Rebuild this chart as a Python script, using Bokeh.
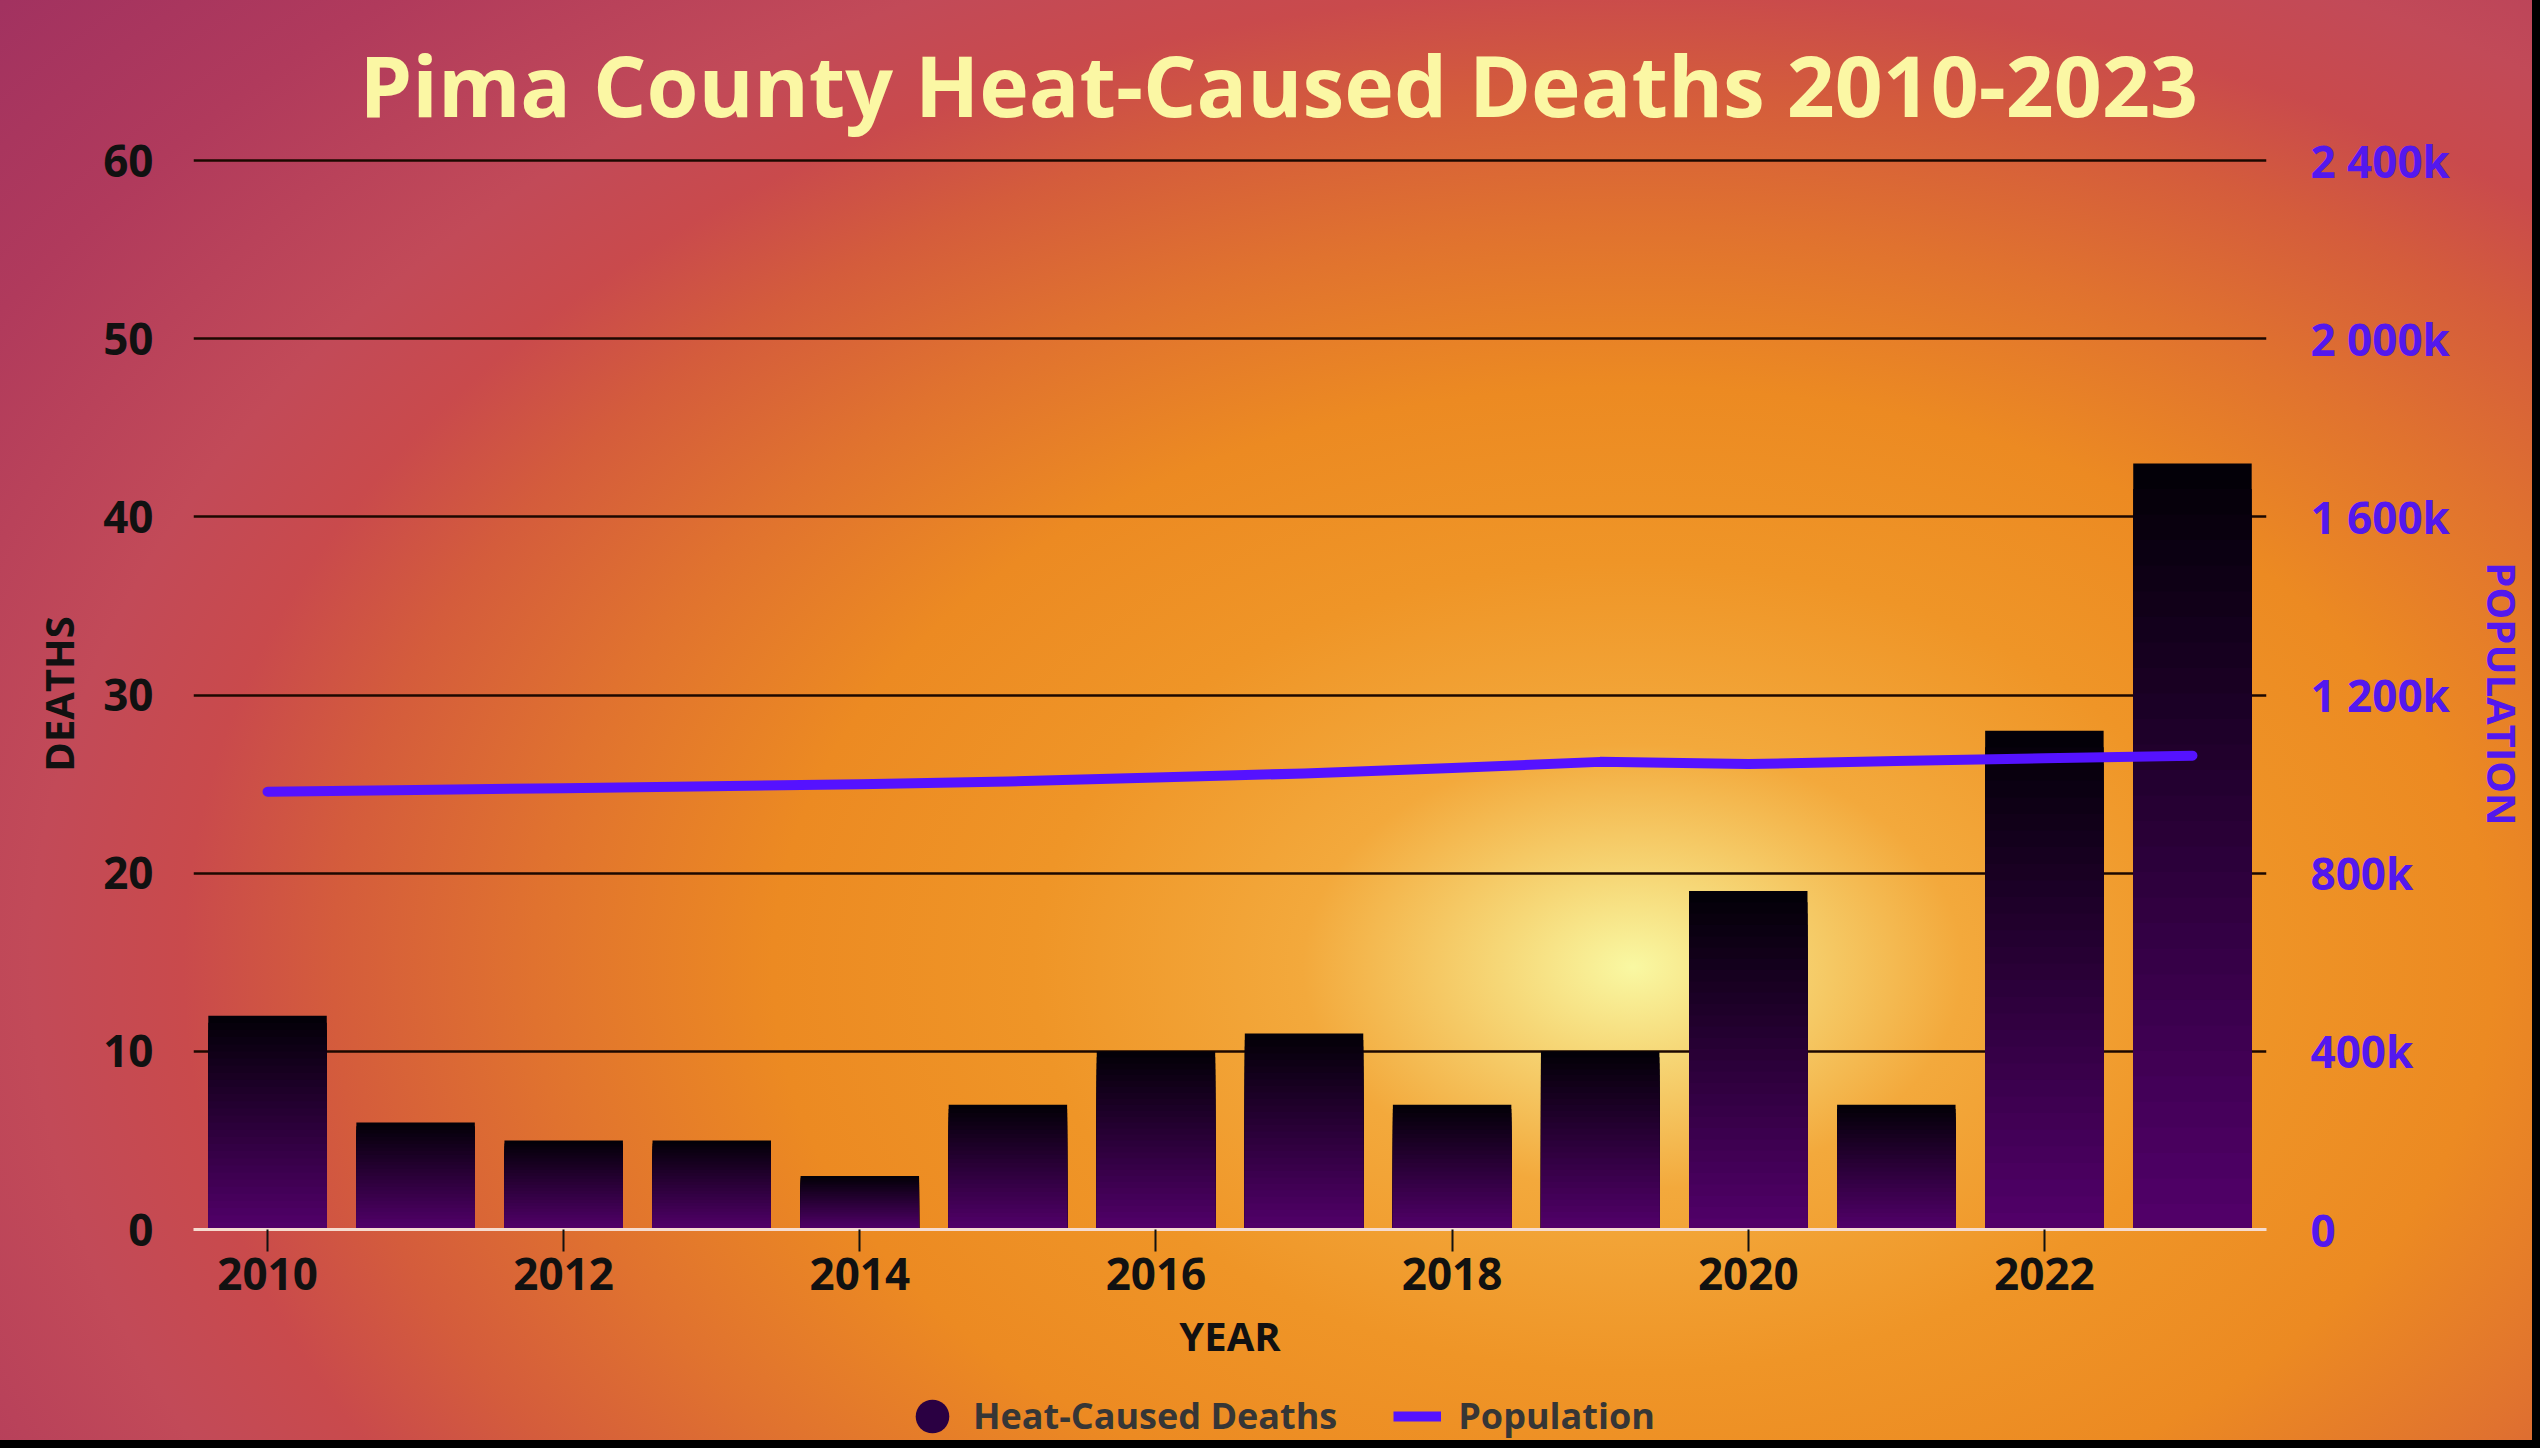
from bokeh.plotting import figure
from bokeh.layouts import column
from bokeh.models import (Range1d, LinearAxis, FixedTicker, Legend, LegendItem,
                          ColumnDataSource)
from bokeh.embed import file_html
from bokeh.resources import INLINE

# ---- data ----
years = [2010, 2011, 2012, 2013, 2014, 2015, 2016, 2017, 2018, 2019, 2020, 2021, 2022, 2023]
deaths = [12, 6, 5, 5, 3, 7, 10, 11, 7, 10, 19, 7, 28, 43]
population = [983000, 987000, 991000, 995000, 1000000, 1006000, 1015000, 1024000,
              1036000, 1050000, 1045000, 1052000, 1058000, 1064000]
year_ticks = [2010, 2012, 2014, 2016, 2018, 2020, 2022]
death_ticks = [0, 10, 20, 30, 40, 50, 60]
pop_ticks = [0, 400000, 800000, 1200000, 1600000, 2000000, 2400000]
pop_tick_labels = ["0", "400k", "800k", "1 200k", "1 600k", "2 000k", "2 400k"]

FONT = "Open Sans"
BAR_BOTTOM = (82, 0, 106)
BAR_TOP = (2, 0, 6)
N_SEG = 30
DEATH_COLOR = "#2a0042"
POP_COLOR = "#5512ff"

# small headroom so the top grid line (60) stays visible
top_pad = 1.002
death_max = death_ticks[-1] * top_pad
pop_max = pop_ticks[-1] * top_pad

# gradient bars: nested rectangles from the base, tallest (darkest) first
gx, gtop, gcol = [], [], []
for k in range(N_SEG - 1, -1, -1):
    f = (k + 0.5) / N_SEG
    c = tuple(int(round(BAR_BOTTOM[i] * (1 - f) + BAR_TOP[i] * f)) for i in range(3))
    col = "#%02x%02x%02x" % c
    for yr, d in zip(years, deaths):
        gx.append(yr)
        gtop.append(d * (k + 1) / N_SEG)
        gcol.append(col)
bar_src = ColumnDataSource(dict(x=gx, top=gtop, color=gcol))

W = 2532
p = figure(width=W, height=1390, output_backend="svg", toolbar_location=None,
           x_range=Range1d(2009.5, 2023.5), y_range=Range1d(0, death_max),
           min_border_left=193, min_border_right=262, min_border_top=158,
           min_border_bottom=161)
p.border_fill_color = None
p.background_fill_color = None
p.outline_line_color = None

p.title.text = "Pima County Heat-Caused Deaths 2010-2023"
p.title.text_font = FONT
p.title.text_font_size = "84px"
p.title.text_font_style = "bold"
p.title.text_color = "#fbf7a4"
p.title.align = "left"
p.title.vertical_align = "top"
p.title.offset = 166
p.title.standoff = 29

# grid
p.xgrid.grid_line_color = None
p.ygrid.grid_line_color = "#1c0800"
p.ygrid.grid_line_width = 2.5
p.ygrid.ticker = FixedTicker(ticks=death_ticks[1:])

# bars
p.vbar(x="x", top="top", bottom=0, width=0.8, source=bar_src,
       fill_color="color", line_color=None)

# population line
p.extra_y_ranges = {"pop": Range1d(0, pop_max)}
p.line(years, population, y_range_name="pop", line_color=POP_COLOR,
       line_width=10, line_cap="round", line_join="round")

# x axis
xa = p.xaxis[0]
xa.ticker = FixedTicker(ticks=year_ticks)
xa.axis_label = "YEAR"
xa.axis_line_color = "#f6dcd0"
xa.axis_line_width = 3
xa.major_tick_line_color = "#111111"
xa.major_tick_line_width = 2
xa.major_tick_in = 0
xa.major_tick_out = 22
xa.minor_tick_line_color = None
xa.major_label_standoff = 6

# left axis
ya = p.yaxis[0]
ya.ticker = FixedTicker(ticks=death_ticks)
ya.axis_label = "DEATHS"
ya.axis_line_color = None
ya.major_tick_line_color = None
ya.minor_tick_line_color = None
ya.major_label_standoff = 34

# right axis
ra = LinearAxis(y_range_name="pop", axis_label="POPULATION")
ra.ticker = FixedTicker(ticks=pop_ticks)
ra.major_label_overrides = {t: l for t, l in zip(pop_ticks, pop_tick_labels)}
ra.axis_line_color = None
ra.major_tick_line_color = None
ra.minor_tick_line_color = None
ra.major_label_standoff = 38
p.add_layout(ra, "right")

for ax, col in ((xa, "#111111"), (ya, "#111111"), (ra, "#5318ee")):
    ax.major_label_text_font = FONT
    ax.major_label_text_font_size = "44px"
    ax.major_label_text_font_style = "bold"
    ax.major_label_text_color = col
    ax.axis_label_text_font = FONT
    ax.axis_label_text_font_size = "40px"
    ax.axis_label_text_font_style = "bold"
    ax.axis_label_text_color = col
xa.axis_label_standoff = 15
ya.axis_label_standoff = 14
ra.axis_label_standoff = 22

# ---- legend strip under the chart ----
lg = figure(width=W, height=50, output_backend="svg", toolbar_location=None,
            x_range=Range1d(0, 1), y_range=Range1d(0, 1),
            x_axis_location=None, y_axis_location=None, min_border=0)
lg.border_fill_color = None
lg.background_fill_color = None
lg.outline_line_color = None
lg.grid.grid_line_color = None
# series proxies (outside the strip's ranges, only their legend symbols show)
leg_deaths = lg.ellipse(x=years, y=deaths, width=1, height=1,
                        width_units="screen", height_units="screen",
                        fill_color=DEATH_COLOR, line_color=None)
leg_pop = lg.line(years, population, line_color=POP_COLOR, line_width=10)

legend = Legend(items=[LegendItem(label="Heat-Caused Deaths", renderers=[leg_deaths]),
                       LegendItem(label="Population", renderers=[leg_pop])],
                orientation="horizontal", location=(715, 0),
                background_fill_alpha=0, border_line_alpha=0,
                label_text_font=FONT, label_text_font_size="36px",
                label_text_font_style="bold", label_text_color="#363636",
                glyph_width=48, glyph_height=42, label_standoff=17,
                spacing=56, padding=0, margin=0)
lg.add_layout(legend)

page = column(p, lg, spacing=0)
page.styles = {
    "background": ("radial-gradient(ellipse 2300px 1552px at 1633px 967px, "
                   "#f9f8a2 0px, #f6d878 130px, #f3a93c 330px, #ef9527 600px, "
                   "#ec8a22 860px, #e0722f 1100px, #d45c3c 1300px, #c94a4c 1450px, "
                   "#c24a58 1600px, #b03a5c 1900px, #9b2e62 2300px)"),
    "outline": "8px solid #000000",
}

open("out.html", "w").write(file_html(page, INLINE))
